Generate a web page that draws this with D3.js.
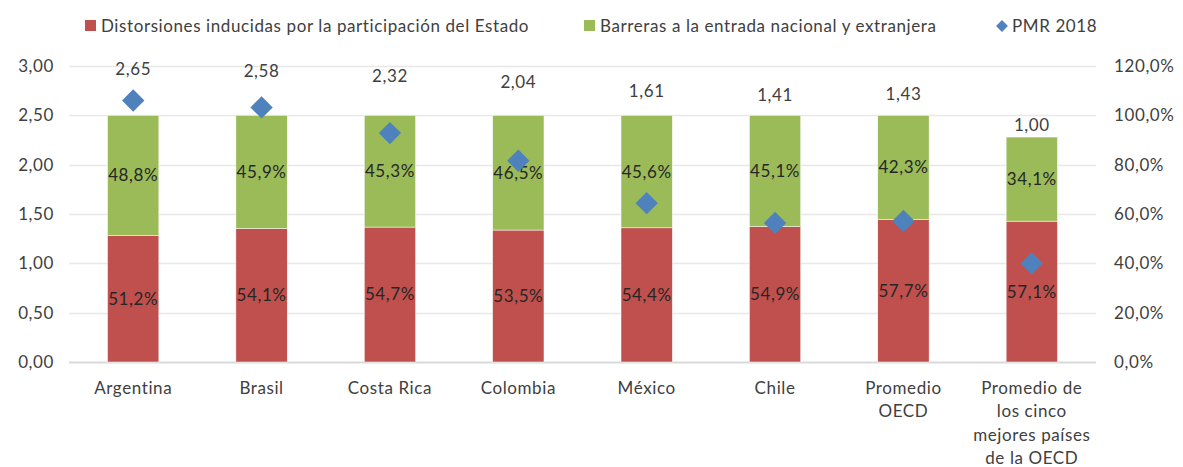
<!DOCTYPE html>
<html>
<head>
  <meta charset="utf8">
  <title>PMR 2018</title>
  <style type="text/css">
    body { margin: 0; background: #fff; font-family: Lato, "Open Sans", sans-serif; }
    text { fill: #404040; letter-spacing: 0.6px; }
  </style>
</head>
<body>
<script src="https://d3js.org/d3.v7.min.js"></script>
<script type="text/javascript">
var width = 1183, height = 467;

var categories = ["Argentina", "Brasil", "Costa Rica", "Colombia", "México", "Chile",
  "Promedio\nOECD", "Promedio de\nlos cinco\nmejores países\nde la OECD"];
var distorsiones = [51.2, 54.1, 54.7, 53.5, 54.4, 54.9, 57.7, 57.1];
var barreras = [48.8, 45.9, 45.3, 46.5, 45.6, 45.1, 42.3, 34.1];
var pmr = [2.65, 2.58, 2.32, 2.04, 1.61, 1.41, 1.43, 1.00];
var leftTicks = [0, 0.5, 1, 1.5, 2, 2.5, 3];
var rightTicks = [0, 20, 40, 60, 80, 100, 120];
var legendNames = ["Distorsiones inducidas por la participación del Estado",
  "Barreras a la entrada nacional y extranjera", "PMR 2018"];

var red = '#c0504d', green = '#9bbb59', blue = '#4f81bd';
var comma = function(s) { return s.replace('.', ','); };

var margin = { top: 66, right: 87, bottom: 105, left: 69 };

var svg = d3.select('body').append('svg')
    .attr('width', width)
    .attr('height', height);

var x = d3.scaleBand()
    .domain(categories)
    .range([margin.left, width - margin.right])
    .paddingInner(0.6)
    .paddingOuter(0.3);

var yL = d3.scaleLinear().domain([0, 3]).range([height - margin.bottom, margin.top]);
var yR = d3.scaleLinear().domain([0, 120]).range([height - margin.bottom, margin.top]);

// gridlines
svg.append('g')
  .selectAll('line')
  .data(leftTicks)
  .join('line')
    .attr('x1', margin.left)
    .attr('x2', width - margin.right)
    .attr('y1', function(d) { return Math.round(yL(d)) + 0.5; })
    .attr('y2', function(d) { return Math.round(yL(d)) + 0.5; })
    .style('stroke', function(d) { return d === 0 ? '#d9d9d9' : '#e8e8e8'; })
    .style('stroke-width', function(d) { return d === 0 ? 2 : 1.5; });

// left axis
var axL = svg.append('g')
    .attr('transform', 'translate(' + (margin.left - 15) + ',0)')
    .call(d3.axisLeft(yL).tickValues(leftTicks).tickSize(0).tickPadding(0)
      .tickFormat(function(d) { return comma(d3.format('.2f')(d)); }));
axL.select('.domain').remove();
axL.selectAll('text').style('font-size', '17px').style('fill', '#404040')
    .style('font-family', 'Lato, sans-serif');

// right axis
var axR = svg.append('g')
    .attr('transform', 'translate(' + (width - margin.right + 18) + ',0)')
    .call(d3.axisRight(yR).tickValues(rightTicks).tickSize(0).tickPadding(0)
      .tickFormat(function(d) { return comma(d3.format('.1f')(d)) + '%'; }));
axR.select('.domain').remove();
axR.selectAll('text').style('font-size', '17px').style('fill', '#404040')
    .style('font-family', 'Lato, sans-serif');

// stacked bars
var rows = categories.map(function(c, i) {
  return { cat: c, dist: distorsiones[i], barr: barreras[i], pmr: pmr[i] };
});

var bars = svg.append('g');
bars.selectAll('.dist')
  .data(rows)
  .join('rect')
    .attr('class', 'dist')
    .attr('x', function(d) { return x(d.cat); })
    .attr('width', x.bandwidth())
    .attr('y', function(d) { return yR(d.dist); })
    .attr('height', function(d) { return yR(0) - yR(d.dist); })
    .style('fill', red)
    .style('stroke', '#fff')
    .style('stroke-width', 0.5);

bars.selectAll('.barr')
  .data(rows)
  .join('rect')
    .attr('class', 'barr')
    .attr('x', function(d) { return x(d.cat); })
    .attr('width', x.bandwidth())
    .attr('y', function(d) { return yR(d.dist + d.barr); })
    .attr('height', function(d) { return yR(d.dist) - yR(d.dist + d.barr); })
    .style('fill', green)
    .style('stroke', '#fff')
    .style('stroke-width', 0.5);

// segment labels
var pct = function(v) { return comma(d3.format('.1f')(v)) + '%'; };
bars.selectAll('.ldist')
  .data(rows)
  .join('text')
    .attr('x', function(d) { return x(d.cat) + x.bandwidth() / 2; })
    .attr('y', function(d) { return yR(d.dist / 2); })
    .attr('dy', '0.35em')
    .attr('text-anchor', 'middle')
    .style('font-size', '17px')
    .style('fill', '#262626')
    .text(function(d) { return pct(d.dist); });

bars.selectAll('.lbarr')
  .data(rows)
  .join('text')
    .attr('x', function(d) { return x(d.cat) + x.bandwidth() / 2; })
    .attr('y', function(d) { return yR(d.dist + d.barr / 2); })
    .attr('dy', '0.35em')
    .attr('text-anchor', 'middle')
    .style('font-size', '17px')
    .style('fill', '#262626')
    .text(function(d) { return pct(d.barr); });

// PMR diamonds
var diamond = d3.symbol().type(d3.symbolSquare).size(250);
svg.append('g')
  .selectAll('path')
  .data(rows)
  .join('path')
    .attr('d', diamond)
    .attr('transform', function(d) {
      return 'translate(' + (x(d.cat) + x.bandwidth() / 2) + ',' + yL(d.pmr) + ') rotate(45)';
    })
    .style('fill', blue);

// PMR labels, sitting above the bars
svg.append('g')
  .selectAll('text')
  .data(rows)
  .join('text')
    .attr('x', function(d) { return x(d.cat) + x.bandwidth() / 2; })
    .attr('y', function(d) {
      return yR(d.dist + d.barr) - 12 - 0.21 * (yL(1) - yL(d.pmr));
    })
    .attr('dy', '0.35em')
    .attr('text-anchor', 'middle')
    .style('font-size', '17px')
    .text(function(d) { return comma(d3.format('.2f')(d.pmr)); });

// category labels
var catText = svg.append('g')
  .selectAll('text')
  .data(categories)
  .join('text')
    .attr('x', function(d) { return x(d) + x.bandwidth() / 2; })
    .attr('y', height - margin.bottom + 26)
    .attr('text-anchor', 'middle')
    .style('font-size', '17px');
catText.selectAll('tspan')
  .data(function(d) { return d.split('\n'); })
  .join('tspan')
    .attr('x', function() { return d3.select(this.parentNode).attr('x'); })
    .attr('dy', function(d, i) { return i === 0 ? '0.35em' : '23.5px'; })
    .text(function(d) { return d; });

// legend
var legend = svg.append('g').attr('transform', 'translate(0,26)');
var legendX = [85, 584, 996];
var legendColors = [red, green, blue];
legendNames.forEach(function(name, i) {
  var g = legend.append('g').attr('transform', 'translate(' + legendX[i] + ',0)');
  if (i < 2) {
    g.append('rect').attr('x', 0).attr('y', -6).attr('width', 11).attr('height', 11)
      .style('fill', legendColors[i]);
  } else {
    g.append('path').attr('d', d3.symbol().type(d3.symbolSquare).size(70))
      .attr('transform', 'translate(6,0) rotate(45)')
      .style('fill', legendColors[i]);
  }
  g.append('text').attr('x', 16).attr('dy', '0.35em')
    .style('font-size', '17px')
    .text(name);
});
</script>
</body>
</html>
